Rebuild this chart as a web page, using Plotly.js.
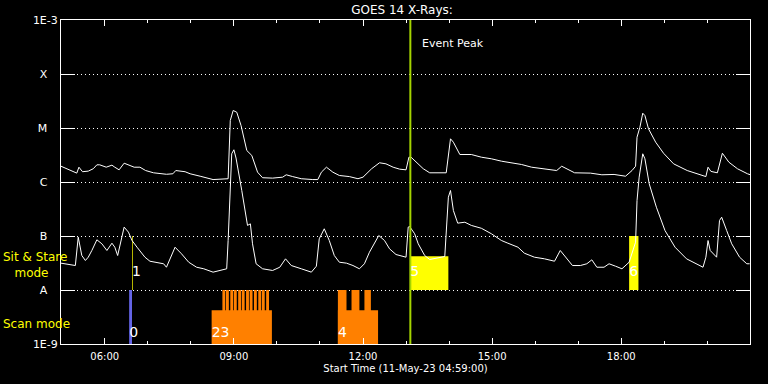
<!DOCTYPE html>
<html>
<head>
<meta charset="utf-8">
<script src="https://cdn.plot.ly/plotly-3.0.1.min.js"></script>
<style>
  html, body { margin: 0; padding: 0; background: #000; }
  #chart { width: 768px; height: 384px; }
</style>
</head>
<body>
<div id="chart"></div>
<script>
// ---------------- data ----------------
const DAY = '2023-05-11';

// GOES 14 long channel (1-8 A), W/m^2
const longTimes = ["04:59","05:07","05:21","05:24","05:29","05:37","05:44","05:49","05:53","06:02","06:10","06:14","06:20","06:27","06:35","06:41","06:49","06:57","07:08","07:26","07:35","07:39","07:52","07:59","08:13","08:22","08:31","08:52","08:55","08:59","09:04","09:10","09:12","09:18","09:25","09:33","09:40","09:54","10:08","10:13","10:22","10:34","10:50","10:57","11:02","11:09","11:18","11:27","11:41","11:53","12:00","12:12","12:23","12:32","12:42","12:51","13:00","13:04","13:07","13:14","13:24","13:33","13:56","14:02","14:06","14:15","14:31","14:45","14:59","15:13","15:27","15:41","15:55","16:13","16:30","16:37","16:46","16:55","17:17","17:33","17:50","18:06","18:15","18:20","18:22","18:26","18:30","18:33","18:38","18:48","18:59","19:13","19:32","19:51","19:58","20:01","20:05","20:14","20:21","20:30","20:42","20:56","21:00"];
const longFlux = [1.96e-6,1.76e-6,1.46e-6,1.88e-6,1.55e-6,1.59e-6,1.76e-6,2.08e-6,2.08e-6,1.88e-6,2.05e-6,1.88e-6,1.68e-6,2.23e-6,2.05e-6,1.88e-6,1.88e-6,1.63e-6,1.48e-6,1.39e-6,1.42e-6,1.63e-6,1.55e-6,1.42e-6,1.28e-6,1.20e-6,1.11e-6,1.15e-6,1.38e-5,2.11e-5,1.96e-5,1.11e-5,8.36e-6,3.83e-6,3.10e-6,1.52e-6,1.20e-6,1.18e-6,1.23e-6,1.36e-6,1.26e-6,1.15e-6,1.11e-6,1.11e-6,1.52e-6,1.88e-6,1.52e-6,1.32e-6,1.26e-6,1.15e-6,1.23e-6,1.76e-6,2.27e-6,2.17e-6,1.88e-6,1.73e-6,1.68e-6,2.88e-6,2.88e-6,2.33e-6,1.76e-6,1.48e-6,1.48e-6,6.31e-6,5.46e-6,3.23e-6,3.23e-6,2.88e-6,2.69e-6,2.43e-6,2.27e-6,2.11e-6,1.88e-6,1.76e-6,1.63e-6,1.96e-6,1.70e-6,1.48e-6,1.46e-6,1.36e-6,1.38e-6,1.28e-6,1.63e-6,1.96e-6,6.75e-6,1.03e-5,1.88e-5,1.70e-5,9.66e-6,5.46e-6,3.41e-6,2.17e-6,1.63e-6,1.38e-6,1.26e-6,1.88e-6,1.57e-6,1.48e-6,3.41e-6,2.33e-6,1.76e-6,1.42e-6,1.36e-6];

// GOES 14 short channel (0.5-4 A), W/m^2
const shortTimes = ["04:59","05:19","05:23","05:28","05:33","05:37","05:42","05:49","05:56","06:03","06:10","06:14","06:18","06:27","06:33","06:38","06:45","06:49","06:56","07:03","07:12","07:22","07:26","07:38","07:47","07:57","08:08","08:18","08:31","08:41","08:50","08:52","08:54","08:57","09:00","09:03","09:11","09:19","09:23","09:26","09:31","09:40","09:54","10:04","10:12","10:20","10:34","10:48","10:55","10:59","11:06","11:13","11:20","11:27","11:37","11:46","11:55","12:02","12:09","12:22","12:30","12:37","12:46","13:00","13:03","13:05","13:12","13:17","13:26","13:33","13:54","13:56","13:59","14:02","14:06","14:12","14:22","14:31","14:45","14:59","15:13","15:22","15:36","15:45","15:59","16:13","16:27","16:35","16:45","16:52","17:03","17:12","17:19","17:26","17:36","17:43","17:52","18:01","18:11","18:17","18:20","18:22","18:25","18:30","18:33","18:39","18:49","19:01","19:15","19:31","19:45","19:54","19:58","20:01","20:04","20:13","20:17","20:20","20:27","20:34","20:45","20:55","20:59"];
const shortFlux = [3.14e-8,2.84e-8,9.50e-8,4.35e-8,3.52e-8,4.05e-8,5.39e-8,8.50e-8,7.17e-8,5.39e-8,7.36e-8,6.20e-8,4.35e-8,1.46e-7,1.18e-7,8.25e-8,6.20e-8,5.39e-8,4.05e-8,3.41e-8,3.27e-8,3.06e-8,2.64e-8,6.20e-8,4.68e-8,3.27e-8,2.64e-8,2.47e-8,2.14e-8,2.30e-8,2.47e-8,8.25e-8,4.54e-7,3.33e-6,3.95e-6,2.78e-6,6.96e-7,1.57e-7,1.68e-7,7.17e-8,3.06e-8,2.47e-8,2.30e-8,2.64e-8,3.78e-8,2.84e-8,2.47e-8,2.14e-8,2.76e-8,8.87e-8,1.36e-7,8.25e-8,4.35e-8,3.27e-8,3.14e-8,2.84e-8,2.47e-8,3.06e-8,5.01e-8,1.02e-7,8.25e-8,5.79e-8,4.54e-8,4.05e-8,1.46e-7,1.50e-7,1.10e-7,7.17e-8,4.35e-8,3.67e-8,4.17e-8,1.10e-7,5.23e-7,6.96e-7,2.97e-7,1.73e-7,1.80e-7,1.57e-7,1.39e-7,1.10e-7,8.25e-8,7.36e-8,6.20e-8,4.80e-8,4.05e-8,3.78e-8,3.41e-8,5.39e-8,3.78e-8,2.84e-8,2.84e-8,3.06e-8,3.62e-8,2.64e-8,2.64e-8,3.06e-8,2.76e-8,2.47e-8,3.27e-8,6.20e-8,7.68e-8,4.54e-7,1.23e-6,3.33e-6,2.69e-6,9.26e-7,3.41e-7,1.26e-7,6.20e-8,3.78e-8,3.06e-8,2.64e-8,4.05e-8,8.25e-8,5.39e-8,4.05e-8,1.94e-7,2.23e-7,1.26e-7,7.17e-8,4.05e-8,3.06e-8,3.06e-8];

// Scan-mode observations (from 1E-9)
const scanBase = 1e-9;
const scanBlockStart = ["08:29","11:25"];
const scanBlockEnd   = ["09:53","12:21"];
const scanBlockTop   = [4.2e-9, 4.2e-9];
const scanSpikeStart = ["08:44","08:49","08:55","09:00","09:06","09:11","09:17","09:22","09:28","09:34","09:39","09:45","11:25","11:44","12:02"];
const scanSpikeEnd   = ["08:48","08:53","08:59","09:04","09:10","09:15","09:21","09:26","09:32","09:38","09:43","09:49","11:37","11:55","12:11"];
const scanSpikeTop   = 1e-8;
const scan0Start = "06:34", scan0End = "06:38", scan0Top = 1e-8;
const scanLabels = ["0","23","4"];
const scanLabelTimes = ["06:34","08:29","11:25"];
const scanLabelLevel = 1.56e-9;

// Sit & Stare observations (from 1E-8, "A")
const sitBase = 1e-8;
const sitStart = ["06:38","13:06","18:11"];
const sitEnd   = ["06:39","13:59","18:24"];
const sitTop   = [1e-7, 4.2e-8, 1e-7];
const sitLabels = ["1","5","6"];
const sitLabelLevel = 2.15e-8;

const eventPeakTime = "13:06";

const yTickVals = [1e-9,1e-8,1e-7,1e-6,1e-5,1e-4,1e-3];
const yTickText = ["1E-9","A","B","C","M","X","1E-3"];
const xTitle = "Start Time (11-May-23 04:59:00)";
const chartTitle = "GOES 14 X-Rays:";

// ---------------- helpers ----------------
const T = s => DAY + ' ' + s;
const ms = s => Date.parse(DAY + 'T' + s + ':00Z');
const dur = (a, b) => a.map((s, i) => ms(b[i]) - ms(s));
const NB = '\u00a0';
const yText = yTickText.map(s => s.length === 1 ? s + NB + NB + NB : s);

const FONT = 'DejaVu Sans, sans-serif';

const traces = [
  { type: 'bar', x: scanBlockStart.map(T), y: scanBlockTop.map(v => v - scanBase), base: scanBase,
    width: dur(scanBlockStart, scanBlockEnd), offset: 0,
    marker: { color: '#ff8000', line: { width: 0 } }, hoverinfo: 'skip', showlegend: false },
  { type: 'bar', x: scanSpikeStart.map(T), y: scanSpikeStart.map(() => scanSpikeTop - scanBase), base: scanBase,
    width: dur(scanSpikeStart, scanSpikeEnd), offset: 0,
    marker: { color: '#ff8000', line: { width: 0 } }, hoverinfo: 'skip', showlegend: false },
  { type: 'bar', x: [T(scan0Start)], y: [scan0Top - scanBase], base: scanBase,
    width: [ms(scan0End) - ms(scan0Start)], offset: 0,
    marker: { color: '#6464e6', line: { width: 0 } }, hoverinfo: 'skip', showlegend: false },
  { type: 'bar', x: sitStart.map(T), y: sitTop.map(v => v - sitBase), base: sitBase,
    width: dur(sitStart, sitEnd), offset: 0,
    marker: { color: '#ffff00', line: { width: 0 } }, hoverinfo: 'skip', showlegend: false },
  { type: 'scatter', mode: 'lines', x: longTimes.map(T), y: longFlux,
    line: { color: '#ffffff', width: 1 }, hoverinfo: 'skip', showlegend: false },
  { type: 'scatter', mode: 'lines', x: shortTimes.map(T), y: shortFlux,
    line: { color: '#ffffff', width: 1 }, hoverinfo: 'skip', showlegend: false },
  { type: 'scatter', mode: 'lines', x: [T(eventPeakTime), T(eventPeakTime)], y: [1e-9, 1e-3],
    line: { color: '#a4d400', width: 2 }, hoverinfo: 'skip', showlegend: false },
  { type: 'scatter', mode: 'text', x: scanLabelTimes.map(T), y: scanLabels.map(() => scanLabelLevel),
    text: scanLabels, textposition: 'middle right', marker: { size: 1 },
    textfont: { family: FONT, size: 14, color: '#ffffff' }, hoverinfo: 'skip', showlegend: false },
  { type: 'scatter', mode: 'text', x: sitStart.map(T), y: sitLabels.map(() => sitLabelLevel),
    text: sitLabels, textposition: 'middle right', marker: { size: 1 },
    textfont: { family: FONT, size: 14, color: '#ffffff' }, hoverinfo: 'skip', showlegend: false }
];

const layout = {
  width: 768, height: 384,
  paper_bgcolor: '#000000', plot_bgcolor: '#000000',
  margin: { l: 61, r: 18, t: 20, b: 40, pad: 0 },
  font: { family: FONT, color: '#ffffff', size: 11 },
  barmode: 'overlay',
  showlegend: false,
  title: { text: chartTitle, x: 402 / 768, xanchor: 'center', y: 1 - 10 / 384, yanchor: 'middle',
           font: { family: FONT, size: 12, color: '#ffffff' } },
  xaxis: {
    type: 'date',
    range: [T('04:59'), T('20:59:30')],
    tickformat: '%H:%M',
    tick0: T('00:00'), dtick: 3 * 3600000,
    ticks: 'inside', ticklen: 6, tickwidth: 1, tickcolor: '#ffffff',
    minor: { tick0: T('00:00'), dtick: 3600000, ticks: 'inside', ticklen: 3, tickwidth: 1, tickcolor: '#ffffff', showgrid: false },
    showline: true, linecolor: '#ffffff', linewidth: 1, mirror: 'ticks',
    showgrid: false, zeroline: false,
    ticklabelstandoff: 3,
    tickfont: { family: FONT, size: 10, color: '#ffffff' },
    title: { text: xTitle, font: { family: FONT, size: 10, color: '#ffffff' }, standoff: 3 }
  },
  yaxis: {
    type: 'log',
    range: [-9, -3],
    tickvals: yTickVals, ticktext: yText,
    ticks: 'inside', ticklen: 14, tickwidth: 1, tickcolor: '#ffffff',
    showline: true, linecolor: '#ffffff', linewidth: 1, mirror: 'ticks',
    showgrid: true, gridcolor: '#ffffff', gridwidth: 1, griddash: '1px,3px',
    zeroline: false,
    tickfont: { family: FONT, size: 11, color: '#ffffff' }
  },
  annotations: [
    { xref: 'x', yref: 'paper', x: T('13:20'), y: 0.929, xanchor: 'left', yanchor: 'middle',
      text: 'Event Peak', showarrow: false, font: { family: FONT, size: 11, color: '#ffffff' } },
    { xref: 'paper', yref: 'paper', x: (1 - 61) / 689, y: (344 - 265) / 324, xanchor: 'left', yanchor: 'middle',
      align: 'left', text: 'Sit & Stare<br>' + NB + NB + NB + 'mode', showarrow: false,
      font: { family: FONT, size: 12, color: '#ffff00' } },
    { xref: 'paper', yref: 'paper', x: (1 - 61) / 689, y: (344 - 324) / 324, xanchor: 'left', yanchor: 'middle',
      text: 'Scan mode', showarrow: false, font: { family: FONT, size: 12, color: '#ffff00' } }
  ]
};

Plotly.newPlot('chart', traces, layout, { staticPlot: true, displayModeBar: false });
</script>
</body>
</html>
